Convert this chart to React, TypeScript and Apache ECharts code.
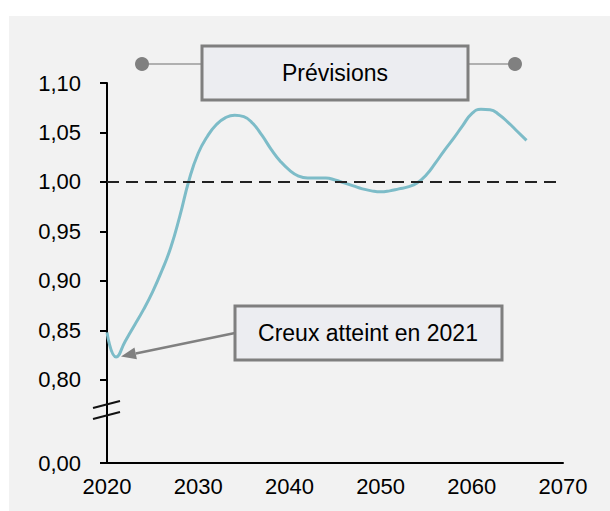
import React, { useEffect, useRef } from "react";
import * as echarts from "echarts";

const years: number[] = [
  2020, 2021, 2022, 2023, 2024, 2025, 2026, 2027, 2028, 2029,
  2030, 2031, 2032, 2033, 2034, 2035, 2036, 2037, 2038, 2039,
  2040, 2041, 2042, 2043, 2044, 2045, 2046, 2047, 2048, 2049,
  2050, 2051, 2052, 2053, 2054, 2055, 2056, 2057, 2058, 2059,
  2060, 2061, 2062, 2063, 2064, 2065, 2066,
];
const ratio: number[] = [
  0.848, 0.823, 0.839, 0.855, 0.871, 0.889, 0.910, 0.934, 0.966, 1.002,
  1.029, 1.046, 1.058, 1.065, 1.0675, 1.066, 1.059, 1.047, 1.033, 1.021,
  1.012, 1.006, 1.004, 1.004, 1.004, 1.002, 0.999, 0.996, 0.993, 0.991,
  0.990, 0.991, 0.993, 0.995, 0.999, 1.007, 1.019, 1.032, 1.044, 1.057,
  1.069, 1.0735, 1.073, 1.068, 1.060, 1.051, 1.042,
];
const yTickValues: number[] = [0.716, 0.8, 0.85, 0.9, 0.95, 1.0, 1.05, 1.1];
const yTickLabels: string[] = ["0,00", "0,80", "0,85", "0,90", "0,95", "1,00", "1,05", "1,10"];
const xTicks: number[] = [2020, 2030, 2040, 2050, 2060, 2070];
const referenceLevel = 1.0;
const forecastLabel = "Prévisions";
const troughLabel = "Creux atteint en 2021";

const FONT = "'Liberation Sans', Arial, Helvetica, sans-serif";

export default function App() {
  const ref = useRef<HTMLDivElement>(null);

  useEffect(() => {
    if (!ref.current) return;
    const chart = echarts.init(ref.current, null, { renderer: "svg" });

    const tip = [121, 356.5];
    const from = [235, 333];
    const dx = tip[0] - from[0];
    const dy = tip[1] - from[1];
    const len = Math.sqrt(dx * dx + dy * dy);
    const ux = dx / len;
    const uy = dy / len;
    const hl = 15;
    const hw = 6;
    const bx = tip[0] - ux * hl;
    const by = tip[1] - uy * hl;
    const px = -uy * hw;
    const py = ux * hw;

    chart.setOption({
      animation: false,
      backgroundColor: "#ffffff",
      grid: {
        left: 107,
        right: 47,
        top: 83,
        bottom: 48,
        containLabel: false,
        outerBoundsMode: "none",
      },
      xAxis: {
        type: "value",
        min: xTicks[0],
        max: xTicks[xTicks.length - 1],
        interval: 10,
        axisLine: { show: true, onZero: false, lineStyle: { color: "#000", width: 2 } },
        axisTick: { show: false },
        splitLine: { show: false },
        axisLabel: {
          fontSize: 22,
          fontFamily: FONT,
          color: "#000",
          margin: 12,
          showMinLabel: true,
          showMaxLabel: true,
          formatter: (v: number) => String(v),
        },
      },
      yAxis: {
        type: "value",
        min: yTickValues[0],
        max: yTickValues[yTickValues.length - 1],
        axisLine: { show: true, onZero: false, lineStyle: { color: "#000", width: 2 } },
        axisTick: {
          show: true,
          length: 7,
          lineStyle: { color: "#000", width: 2 },
          customValues: yTickValues,
        },
        splitLine: { show: false },
        axisLabel: {
          customValues: yTickValues,
          fontSize: 22,
          fontFamily: FONT,
          color: "#000",
          margin: 26,
          formatter: (v: number) => {
            let best = 0;
            for (let i = 0; i < yTickValues.length; i++) {
              if (Math.abs(yTickValues[i] - v) < Math.abs(yTickValues[best] - v)) best = i;
            }
            return yTickLabels[best];
          },
        },
      },
      series: [
        {
          type: "line",
          data: years.map((y, i) => [y, ratio[i]]),
          smooth: 0.5,
          showSymbol: false,
          symbol: "none",
          lineStyle: { color: "#7dbcc8", width: 3 },
          z: 3,
          markLine: {
            silent: true,
            symbol: "none",
            label: { show: false },
            lineStyle: { type: [12, 7], color: "#222", width: 2 },
            data: [{ yAxis: referenceLevel }],
          },
        },
      ],
      graphic: [
        {
          type: "rect",
          z: -100,
          silent: true,
          shape: { x: 9, y: 16, width: 601, height: 495 },
          style: { fill: "#f2f2f2" },
        },
        {
          type: "line",
          z: 50,
          shape: { x1: 93, y1: 408, x2: 120, y2: 401 },
          style: { stroke: "#111", lineWidth: 2 },
        },
        {
          type: "line",
          z: 50,
          shape: { x1: 93, y1: 419, x2: 120, y2: 412 },
          style: { stroke: "#111", lineWidth: 2 },
        },
        {
          type: "line",
          z: 50,
          shape: { x1: 142, y1: 64, x2: 202, y2: 64 },
          style: { stroke: "#9a9a9a", lineWidth: 1.5 },
        },
        {
          type: "line",
          z: 50,
          shape: { x1: 468, y1: 64, x2: 515, y2: 64 },
          style: { stroke: "#9a9a9a", lineWidth: 1.5 },
        },
        { type: "circle", z: 51, shape: { cx: 142, cy: 64, r: 7 }, style: { fill: "#808080" } },
        { type: "circle", z: 51, shape: { cx: 515, cy: 64, r: 7 }, style: { fill: "#808080" } },
        {
          type: "rect",
          z: 52,
          shape: { x: 202, y: 46, width: 266, height: 54 },
          style: { fill: "#ecedf1", stroke: "#7f7f7f", lineWidth: 3 },
        },
        {
          type: "text",
          z: 53,
          x: 335,
          y: 73,
          style: {
            text: forecastLabel,
            fontSize: 23,
            fontFamily: FONT,
            fill: "#000",
            align: "center",
            verticalAlign: "middle",
          },
        },
        {
          type: "line",
          z: 50,
          shape: { x1: from[0], y1: from[1], x2: bx, y2: by },
          style: { stroke: "#808080", lineWidth: 2.5 },
        },
        {
          type: "polygon",
          z: 50,
          shape: {
            points: [
              [tip[0], tip[1]],
              [bx + px, by + py],
              [bx - px, by - py],
            ],
          },
          style: { fill: "#808080" },
        },
        {
          type: "rect",
          z: 52,
          shape: { x: 235, y: 306, width: 267, height: 54 },
          style: { fill: "#ecedf1", stroke: "#7f7f7f", lineWidth: 3 },
        },
        {
          type: "text",
          z: 53,
          x: 368,
          y: 333,
          style: {
            text: troughLabel,
            fontSize: 23,
            fontFamily: FONT,
            fill: "#000",
            align: "center",
            verticalAlign: "middle",
          },
        },
      ],
    });

    return () => {
      chart.dispose();
    };
  }, []);

  return (
    <div
      ref={ref}
      style={{ position: "absolute", left: 0, top: 0, width: 610, height: 511 }}
    />
  );
}
